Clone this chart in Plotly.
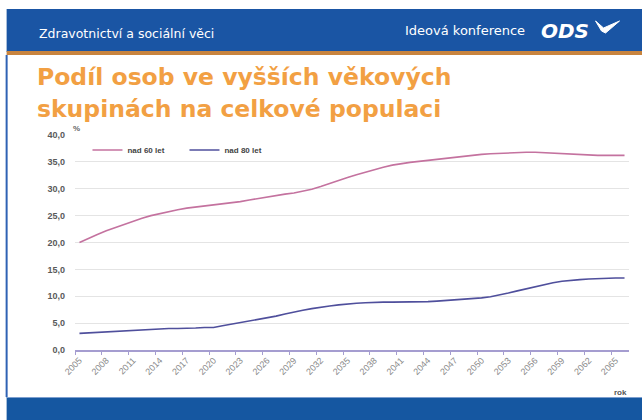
import plotly.graph_objects as go

# Population share of older age groups, 2005-2066 (%)
years = list(range(2005, 2067))

over_60 = [
    20.0, 20.8, 21.5, 22.2, 22.8, 23.4, 24.0, 24.5, 25.0, 25.4,
    25.8, 26.1, 26.4, 26.6, 26.8, 26.9, 27.1, 27.3, 27.6, 27.9,
    28.2, 28.5, 28.8, 29.0, 29.2, 29.5, 29.9, 30.4, 31.0, 31.6,
    32.1, 32.6, 33.1, 33.6, 34.0, 34.4, 34.7, 34.9, 35.1, 35.3,
    35.5, 35.7, 35.8, 36.0, 36.2, 36.4, 36.5, 36.6, 36.7, 36.8,
    36.8, 36.8, 36.7, 36.6, 36.5, 36.4, 36.3, 36.3, 36.2, 36.2,
    36.2, 36.2,
]

over_80 = [
    3.1, 3.2, 3.3, 3.4, 3.5, 3.6, 3.7, 3.8, 3.9, 4.0,
    4.0, 4.0, 4.0, 4.1, 4.2, 4.2, 4.5, 4.8, 5.0, 5.3,
    5.6, 5.9, 6.3, 6.7, 7.1, 7.4, 7.7, 8.0, 8.2, 8.4,
    8.6, 8.7, 8.8, 8.9, 8.9, 8.9, 8.9, 8.9, 8.9, 9.0,
    9.1, 9.2, 9.3, 9.4, 9.5, 9.7, 9.9, 10.2, 10.6, 11.0,
    11.4, 11.8, 12.2, 12.5, 12.8, 13.0, 13.1, 13.2, 13.3, 13.3,
    13.4, 13.4,
]

series_names = ["nad 60 let", "nad 80 let"]
series_colors = ["#c4729f", "#4f4f9c"]

x_tick_years = list(range(2005, 2066, 3))
x_boundaries = [y - 0.5 for y in range(2005, 2066, 3)]
y_ticks = [0, 5, 10, 15, 20, 25, 30, 35, 40]

header_left = "Zdravotnictví a sociální věci"
header_right = "Ideová konference"
logo_text = "ODS"
title_lines = ["Podíl osob ve vyšších věkových", "skupinách na celkové populaci"]

# page geometry (pixels)
W, H = 642, 420
PL, PR, PT, PB = 74.5, 629.5, 135, 350


def px(x):
    return (x - PL) / (PR - PL)


def py(y):
    return (PB - y) / (PB - PT)


fig = go.Figure()
for name, vals, col in zip(series_names, [over_60, over_80], series_colors):
    fig.add_trace(go.Scatter(
        x=years, y=vals, mode="lines", name=name,
        line=dict(color=col, width=1.6),
    ))

BLUE = "#1a55a4"
RIGHT = 1.2  # bands run past the right edge of the page
PAPER = dict(xref="paper", yref="paper", layer="above")
shapes = [
    # header band
    dict(type="rect", x0=px(6), x1=RIGHT, y0=py(9), y1=py(52),
         fillcolor=BLUE, line_width=0, **PAPER),
    # orange stripe under the header
    dict(type="rect", x0=px(6), x1=RIGHT, y0=py(51), y1=py(55),
         fillcolor="#c8843e", line_width=0, **PAPER),
    # left border of the slide body
    dict(type="rect", x0=px(5), x1=px(7), y0=py(55), y1=py(397),
         fillcolor="#2f62b4", line_width=0, **PAPER),
    # footer band
    dict(type="rect", x0=px(6), x1=RIGHT, y0=py(397), y1=-0.4,
         fillcolor="#1557a1", line_width=0, **PAPER),
    dict(type="line", x0=px(6), x1=RIGHT, y0=py(397.5), y1=py(397.5),
         line=dict(color="#7d9fcf", width=1), **PAPER),
    # logo swoosh
    dict(type="path",
         path=("M {a},{b} L {c},{d} L {e},{f} L {g},{h} L {i},{j} Z").format(
             a=px(596), b=py(21), c=px(604), d=py(28), e=px(620), f=py(21),
             g=px(606), h=py(33), i=px(602), j=py(31)),
         fillcolor="white", line=dict(color="white", width=1), **PAPER),
]

annotations = [
    dict(text=header_left, x=px(36), y=py(33), xanchor="left", yanchor="middle",
         font=dict(family="DejaVu Sans", size=12.5, color="white"), showarrow=False),
    dict(text=header_right, x=px(403), y=py(31), xanchor="left", yanchor="middle",
         font=dict(family="DejaVu Sans", size=13, color="white"), showarrow=False),
    dict(text="<b><i>" + logo_text + "</i></b>", x=px(539), y=py(31), xanchor="left",
         yanchor="middle",
         font=dict(family="DejaVu Sans", size=20, color="white"), showarrow=False),
    dict(text=title_lines[0], x=px(34), y=py(77), xanchor="left", yanchor="middle",
         font=dict(family="DejaVu Sans", size=23.5, color="#f2a043", weight="bold"),
         showarrow=False),
    dict(text=title_lines[1], x=px(34), y=py(109), xanchor="left", yanchor="middle",
         font=dict(family="DejaVu Sans", size=23.5, color="#f2a043", weight="bold"),
         showarrow=False),
    dict(text="%", x=px(70), y=py(128), xanchor="left", yanchor="middle",
         font=dict(family="Liberation Sans", size=8, color="#666666", weight="bold"),
         showarrow=False),
    dict(text="rok", x=px(629), y=py(392), xanchor="right", yanchor="middle",
         font=dict(family="Liberation Sans", size=8, color="#555555", weight="bold"),
         showarrow=False),
]
for a in annotations:
    a.update(xref="paper", yref="paper")

fig.update_layout(
    width=W, height=H, autosize=False,
    margin=dict(l=PL, r=W - PR, t=PT, b=H - PB, pad=0),
    paper_bgcolor="white", plot_bgcolor="white",
    separators=", ",
    showlegend=True,
    legend=dict(
        orientation="h", x=px(87), y=py(150), xanchor="left", yanchor="middle",
        bgcolor="rgba(0,0,0,0)", entrywidth=52, entrywidthmode="pixels",
        font=dict(family="Liberation Sans", size=8, color="#444444", weight="bold"),
        itemwidth=30,
    ),
    shapes=shapes,
    annotations=annotations,
    xaxis=dict(
        range=[2004.5, 2066.5], tickmode="array", tickvals=x_tick_years,
        ticktext=[str(y) for y in x_tick_years], tickangle=-45,
        ticks="", showgrid=False, zeroline=False,
        showline=True, linecolor="#a59dd0", linewidth=1.5,
        tickfont=dict(family="Liberation Sans", size=9, color="#8a8a8a"),
        minor=dict(tickmode="array", tickvals=x_boundaries, ticks="outside",
                   ticklen=3, tickcolor="#a59dd0", tickwidth=1, showgrid=False),
        fixedrange=True,
    ),
    yaxis=dict(
        range=[0, 40], tickmode="array", tickvals=y_ticks, tickformat=".1f",
        showgrid=True, gridcolor="#e4e4e4", gridwidth=1.2, zeroline=False,
        showline=False, ticks="", ticklabelstandoff=9,
        tickfont=dict(family="Liberation Sans", size=9, color="#5a5a5a", weight="bold"),
        fixedrange=True,
    ),
)

fig.write_html("out.html", config={"displayModeBar": False})
